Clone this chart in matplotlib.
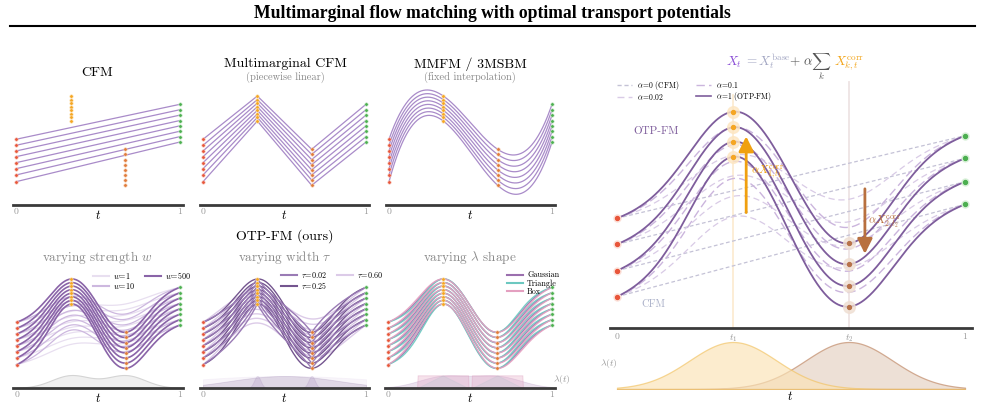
import numpy as np
import matplotlib
matplotlib.use("Agg")
import matplotlib.pyplot as plt
from matplotlib.lines import Line2D

plt.rcParams["font.family"] = "cmr10"
plt.rcParams["mathtext.fontset"] = "cm"
plt.rcParams["axes.unicode_minus"] = False
plt.rcParams["axes.formatter.use_mathtext"] = True

W, H = 985, 407

# ---- data ----
t_marg = [0.0, 1 / 3, 2 / 3, 1.0]

# small panels: heights above the axis line (1 unit = 10 px)
x0_small = [6.57, 5.97, 5.40, 4.83, 4.23, 3.63, 3.00, 2.33]
x1_small = [10.90, 10.54, 10.19, 9.83, 9.47, 9.11, 8.76, 8.40]
x2_small = [5.57, 5.06, 4.54, 4.03, 3.51, 3.00, 2.49, 1.97]
x3_small = [10.07, 9.53, 8.99, 8.45, 7.92, 7.38, 6.84, 6.30]

# big panel
x0_big = [10.97, 8.37, 5.73, 3.13]
x1_big = [21.63, 20.07, 18.63, 17.13]
x2_big = [8.47, 6.37, 4.20, 2.13]
x3_big = [19.23, 16.97, 14.63, 12.37]

alpha_labels = [r"$\alpha\!=\!0$ (CFM)", r"$\alpha\!=\!0.02$", r"$\alpha\!=\!0.1$", r"$\alpha\!=\!1$ (OTP-FM)"]
alpha_reach = [0.0, 0.45, 0.8, 1.0]
big_sigma = 0.125

w_labels = [r"$w\!=\!1$", r"$w\!=\!10$", r"$w\!=\!500$"]
w_reach = [0.15, 0.45, 1.0]

tau_labels = [r"$\tau\!=\!0.02$", r"$\tau\!=\!0.25$", r"$\tau\!=\!0.60$"]
tau_values = [0.02, 0.25, 0.60]
tau_kind = ["laplace", "gauss", "gauss"]
tau_width = [0.2, 0.13, 0.2]
tau_reach = [1.0, 1.0, 0.6]

shape_labels = ["Gaussian", "Triangle", "Box"]
shape_width = [0.13, 0.12, 0.14]

# colours
c_start, c_t1, c_t2, c_end = "#e8553a", "#f5a623", "#e07b39", "#4caf50"
c_brown = "#b8734a"
c_line = "#a98bc9"
w_colors = ["#e8dff0", "#cdb8df", "#8a64a8"]
tau_colors = ["#9a7bb5", "#74558f", "#dccbe8"]
shape_colors = ["#9b6fae", "#6cc8c0", "#e4a0c0"]
alpha_colors = ["#c4c2d6", "#d9cbe6", "#cbb5dd", "#7e5d9c"]


def kern(t, c, kind, width):
    d = np.asarray(t, dtype=float) - c
    if kind == "laplace":
        return np.exp(-np.abs(d) / width)
    return np.exp(-0.5 * (d / width) ** 2)


def phi(t, c, kind, width):
    t = np.asarray(t, dtype=float)
    return kern(t, c, kind, width) - ((1 - t) * kern(0.0, c, kind, width) + t * kern(1.0, c, kind, width))


def otp_paths(starts, mids1, mids2, ends, kind, width, reach, t):
    centers = t_marg[1:3]
    basis = np.array([phi(t, c, kind, width) for c in centers])
    K = np.array([[phi(tj, c, kind, width) for c in centers] for tj in centers])
    out = []
    for a, b, c2, d in zip(starts, mids1, mids2, ends):
        base = (1 - t) * a + t * d
        base_k = np.array([(1 - tk) * a + tk * d for tk in centers])
        coef = np.linalg.solve(K, reach * (np.array([b, c2]) - base_k))
        out.append(base + coef @ basis)
    return out


fig = plt.figure(figsize=(W / 100, H / 100), dpi=100)


def fx(x):
    return x / W


def fy(y):
    return 1 - y / H


def small_axes(xa, xb, y_top, y_spine):
    ppu = xb - xa
    ax = fig.add_axes([fx(xa - 0.02 * ppu), fy(y_spine), 1.04 * ppu / W, (y_spine - y_top) / H])
    ax.set_xlim(-0.02, 1.02)
    ax.set_ylim(0, (y_spine - y_top) / 10)
    for s in ["top", "right", "left"]:
        ax.spines[s].set_visible(False)
    ax.spines["bottom"].set_color("#3a3a3a")
    ax.spines["bottom"].set_linewidth(2)
    ax.set_yticks([])
    ax.set_xticks([0, 1])
    ax.set_xticklabels(["0", "1"])
    ax.tick_params(axis="x", length=0, pad=2, labelsize=7, labelcolor="#9a9a9a")
    ax.annotate("$t$", xy=(0.5, 0), xycoords=("data", "axes fraction"), xytext=(0, -7.5),
                textcoords="offset points", ha="center", va="center", fontsize=9)
    ax.patch.set_alpha(0)
    return ax


def draw_marginals(ax, z=6):
    ax.scatter([t_marg[0]] * 8, x0_small, s=6, color=c_start, edgecolor="#f7c8bc", lw=0.4, zorder=z)
    ax.scatter([t_marg[1]] * 8, x1_small, s=6, color=c_t1, edgecolor="#fde3b4", lw=0.4, zorder=z)
    ax.scatter([t_marg[2]] * 8, x2_small, s=6, color=c_t2, edgecolor="#f6d2b8", lw=0.4, zorder=z)
    ax.scatter([t_marg[3]] * 8, x3_small, s=6, color=c_end, edgecolor="#c9ebca", lw=0.4, zorder=z)


tt = np.linspace(0, 1, 300)

# title
fig.text(0.5, fy(14), "Multimarginal flow matching with optimal transport potentials",
         ha="center", va="center", fontsize=12.7, fontweight="bold", family="Liberation Serif")
fig.add_artist(Line2D([fx(10), fx(975)], [fy(26), fy(26)], color="black", lw=1.5))

# ---- top row ----
ax1 = small_axes(16, 180, 60, 205)
for a, d in zip(x0_small, x3_small):
    ax1.plot([0, 1], [a, d], color=c_line, lw=0.9)
draw_marginals(ax1)
fig.text(fx(97), fy(73), "CFM", ha="center", va="center", fontsize=10)

ax2 = small_axes(203, 366, 60, 205)
for row in zip(x0_small, x1_small, x2_small, x3_small):
    ax2.plot(t_marg, row, color=c_line, lw=0.9)
draw_marginals(ax2)
fig.text(fx(285), fy(64), "Multimarginal CFM", ha="center", va="center", fontsize=10)
fig.text(fx(285), fy(77), "(piecewise linear)", ha="center", va="center", fontsize=7.5, color="#888888")

ax3 = small_axes(389, 552, 60, 205)
for row in zip(x0_small, x1_small, x2_small, x3_small):
    coef = np.polyfit(t_marg, row, 3)
    ax3.plot(tt, np.polyval(coef, tt), color=c_line, lw=0.9)
draw_marginals(ax3)
fig.text(fx(470), fy(64), "MMFM / 3MSBM", ha="center", va="center", fontsize=10)
fig.text(fx(470), fy(77), "(fixed interpolation)", ha="center", va="center", fontsize=7.5, color="#888888")

# ---- bottom row ----
fig.text(fx(285), fy(236), "OTP-FM (ours)", ha="center", va="center", fontsize=10)

ax4 = small_axes(16.7, 180, 243, 388)
for col, reach in zip(w_colors, w_reach):
    for p in otp_paths(x0_small, x1_small, x2_small, x3_small, "gauss", 0.13, reach, tt):
        ax4.plot(tt, p, color=col, lw=1.2 if reach == 1.0 else 0.9)
draw_marginals(ax4)
lam4 = 1.27 * (kern(tt, t_marg[1], "gauss", 0.12) + kern(tt, t_marg[2], "gauss", 0.12))
ax4.fill_between(tt, 0, lam4, color="#f0f0f0", ec="#d4d4d4", lw=0.8, zorder=1)
fig.text(fx(97), fy(258), "varying strength $w$", ha="center", va="center", fontsize=9.5, color="#8a8a8a")
fig.legend([Line2D([], [], color=c, lw=1.5) for c in w_colors], w_labels, loc="upper left",
           bbox_to_anchor=(fx(89), fy(266)), ncol=2, frameon=False, fontsize=5.8,
           handlelength=2.0, columnspacing=1.2, labelspacing=0.0, handletextpad=0.5, borderpad=0)

ax5 = small_axes(203, 366, 243, 388)
for col, kind, wd, reach in zip(tau_colors[::-1], tau_kind[::-1], tau_width[::-1], tau_reach[::-1]):
    for p in otp_paths(x0_small, x1_small, x2_small, x3_small, kind, wd, reach, tt):
        ax5.plot(tt, p, color=col, lw=1.0)
draw_marginals(ax5)
for col, tau in zip(tau_colors[::-1], tau_values[::-1]):
    lam = kern(tt, t_marg[1], "gauss", tau) + kern(tt, t_marg[2], "gauss", tau)
    ax5.fill_between(tt, 0, 1.2 * lam / lam.max(), color=col, alpha=0.18, ec=col, lw=0.6, zorder=1)
fig.text(fx(285), fy(258), r"varying width $\tau$", ha="center", va="center", fontsize=9.5, color="#8a8a8a")
fig.legend([Line2D([], [], color=c, lw=1.5) for c in tau_colors], tau_labels, loc="upper left",
           bbox_to_anchor=(fx(277), fy(266)), ncol=2, frameon=False, fontsize=5.8,
           handlelength=2.0, columnspacing=1.2, labelspacing=0.0, handletextpad=0.5, borderpad=0)

ax6 = small_axes(388, 552, 243, 388)
for col, wd in zip(shape_colors, shape_width):
    for p in otp_paths(x0_small, x1_small, x2_small, x3_small, "gauss", wd, 1.0, tt):
        ax6.plot(tt, p, color=col, lw=1.0, alpha=0.9)
draw_marginals(ax6)
hw = 0.155
lam_g = kern(tt, t_marg[1], "gauss", 0.15) + kern(tt, t_marg[2], "gauss", 0.15)
lam_tri = np.maximum(0, 1 - np.abs(tt - t_marg[1]) / hw) + np.maximum(0, 1 - np.abs(tt - t_marg[2]) / hw)
lam_box = ((np.abs(tt - t_marg[1]) < hw) | (np.abs(tt - t_marg[2]) < hw)).astype(float)
ax6.fill_between(tt, 0, 1.27 * lam_g / lam_g.max(), color=shape_colors[0], alpha=0.2, ec=shape_colors[0], lw=0.6, zorder=1)
ax6.fill_between(tt, 0, 1.27 * lam_tri, color=shape_colors[1], alpha=0.15, ec=shape_colors[1], lw=0.6, zorder=1)
ax6.fill_between(tt, 0, 1.27 * lam_box, color=shape_colors[2], alpha=0.3, ec="#d68fb2", lw=0.7, zorder=1)
fig.text(fx(470), fy(258), r"varying $\lambda$ shape", ha="center", va="center", fontsize=9.5, color="#8a8a8a")
fig.text(fx(553), fy(380), r"$\lambda(t)$", ha="left", va="center", fontsize=7, color="#999999")
fig.legend([Line2D([], [], color=c, lw=1.5) for c in shape_colors], shape_labels, loc="upper left",
           bbox_to_anchor=(fx(503), fy(267)), ncol=1, frameon=False, fontsize=5.8,
           handlelength=2.0, labelspacing=0.0, handletextpad=0.5, borderpad=0)

# ---- big panel ----
axb = fig.add_axes([fx(617 - 0.02 * 348), fy(328), 1.04 * 348 / W, (328 - 62) / H])
axb.set_xlim(-0.02, 1.02)
axb.set_ylim(0, 26.6)
for s in ["top", "right", "left"]:
    axb.spines[s].set_visible(False)
axb.spines["bottom"].set_color("#3a3a3a")
axb.spines["bottom"].set_linewidth(2)
axb.set_yticks([])
axb.set_xticks(t_marg)
axb.set_xticklabels(["0", "$t_1$", "$t_2$", "1"])
axb.tick_params(axis="x", length=0, pad=3, labelsize=7, labelcolor="#9a9a9a")
axb.patch.set_alpha(0)

axb.plot([t_marg[1]] * 2, [0, 23.3], color="#fcecd2", lw=1.3, zorder=0)
axb.plot([t_marg[2]] * 2, [0, 24.6], color="#eee4e4", lw=1.3, zorder=0)

dash_styles = [(3, 2), (5, 3), (6, 3), None]
lws = [0.9, 0.9, 1.0, 1.3]
big_paths = []
for col, reach, ds, lw in zip(alpha_colors, alpha_reach, dash_styles, lws):
    paths = otp_paths(x0_big, x1_big, x2_big, x3_big, "gauss", big_sigma, reach, tt)
    big_paths.append(paths)
    for p in paths:
        if ds is None:
            axb.plot(tt, p, color=col, lw=lw, zorder=3)
        else:
            axb.plot(tt, p, color=col, lw=lw, dashes=ds, zorder=2)

axb.scatter([0] * 4, x0_big, s=25, color="#fbe0d8", zorder=4)
axb.scatter([0] * 4, x0_big, s=8, color=c_start, zorder=5)
axb.scatter([t_marg[1]] * 4, x1_big, s=70, color="#fde6c2", alpha=0.8, zorder=4)
axb.scatter([t_marg[1]] * 4, x1_big, s=8, color=c_t1, zorder=5)
axb.scatter([t_marg[2]] * 4, x2_big, s=70, color="#efdfd3", alpha=0.8, zorder=4)
axb.scatter([t_marg[2]] * 4, x2_big, s=8, color=c_brown, zorder=5)
axb.scatter([1] * 4, x3_big, s=25, color="#d8f0d8", zorder=4)
axb.scatter([1] * 4, x3_big, s=8, color=c_end, zorder=5)

# correction arrows on the second trajectory
ta, tb = 0.37, 0.71
ia, ib = np.searchsorted(tt, ta), np.searchsorted(tt, tb)
base2 = big_paths[0][1]
otp2 = big_paths[3][1]
axb.annotate("", xy=(tt[ia], otp2[ia] - 0.3), xytext=(tt[ia], base2[ia] - 0.3),
             arrowprops=dict(arrowstyle="-|>,head_width=0.45,head_length=0.9", color="#f0a010", lw=2), zorder=6)
axb.annotate("", xy=(tt[ib], otp2[ib]), xytext=(tt[ib], base2[ib] - 0.3),
             arrowprops=dict(arrowstyle="-|>,head_width=0.45,head_length=0.9", color="#b8703f", lw=2), zorder=6)
fig.text(fx(751), fy(172), r"$\alpha X^{\mathrm{corr}}_{1,t_1}$", fontsize=8, color="#f0a010", va="center")
fig.text(fx(868), fy(222), r"$\alpha X^{\mathrm{corr}}_{2,t_2}$", fontsize=8, color="#b8703f", va="center")
fig.text(fx(633), fy(131), "OTP-FM", fontsize=8, color="#7e5d9c", va="center")
fig.text(fx(641), fy(304), "CFM", fontsize=7.5, color="#aab0c8", va="center")

fig.legend([Line2D([], [], color=c, lw=1.2 if ds is None else 1.0, dashes=ds if ds else (None, None))
            for c, ds in zip(alpha_colors, dash_styles)], alpha_labels, loc="upper left",
           bbox_to_anchor=(fx(613), fy(75)), ncol=2, frameon=False, fontsize=5.5,
           handlelength=2.0, columnspacing=2.2, labelspacing=0.0, handletextpad=0.6, borderpad=0)

# formula
fig.text(fx(726), fy(66), "$X_t$", fontsize=9.5, color="#8b4fd6", va="baseline")
fig.text(fx(744), fy(66), r"$=X_t^{\mathrm{base}}$", fontsize=9.5, color="#a4a8c4", va="baseline")
fig.text(fx(789), fy(66), r"$+\ \alpha\sum_k$", fontsize=9.5, color="#555555", va="baseline")
fig.text(fx(834), fy(66), r"$X_{k,t}^{\mathrm{corr}}$", fontsize=9.5, color="#f2a51a", va="baseline")

# lambda panel
axl = fig.add_axes([fx(617 - 0.02 * 348), fy(389), 1.04 * 348 / W, (389 - 337) / H])
axl.set_xlim(-0.02, 1.02)
axl.set_ylim(0, 5.2)
axl.axis("off")
lam1 = 4.7 * kern(tt, t_marg[1], "gauss", big_sigma)
lam2 = 4.7 * kern(tt, t_marg[2], "gauss", big_sigma)
axl.fill_between(tt, 0, lam2, color="#e9d9cc", alpha=0.8, ec="#c8987a", lw=0.9)
axl.fill_between(tt, 0, lam1, color="#fbe3b5", alpha=0.65, ec="#f2c260", lw=0.9)
fig.text(fx(600), fy(364), r"$\lambda(t)$", fontsize=7, color="#999999", va="center")
fig.text(fx(790), fy(397), "$t$", fontsize=9, ha="center", va="center")

fig.savefig("out.png", dpi=100)
